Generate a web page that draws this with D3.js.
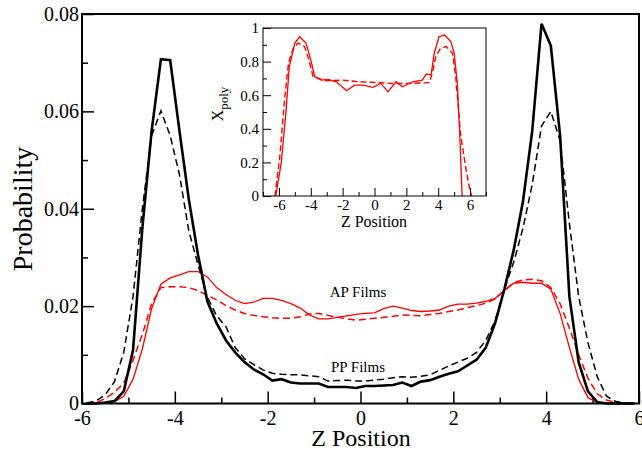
<!DOCTYPE html>
<html>
<head>
<meta charset="utf-8">
<script src="https://cdn.jsdelivr.net/npm/d3@7"></script>
<style>
  body { margin: 0; background: #fff; }
  text { font-family: "Liberation Serif", "Times New Roman", serif; fill: #000; }
</style>
</head>
<body>
<script>
// bin centres along z for the main probability profiles
const zMain = [-5.9,-5.7,-5.5,-5.3,-5.1,-4.9,-4.7,-4.5,-4.3,-4.1,
  -3.9,-3.7,-3.5,-3.3,-3.1,-2.9,-2.7,-2.5,-2.3,-2.1,
  -1.9,-1.7,-1.5,-1.3,-1.1,-0.9,-0.7,-0.5,-0.3,-0.1,
  0.1,0.3,0.5,0.7,0.9,1.1,1.3,1.5,1.7,1.9,
  2.1,2.3,2.5,2.7,2.9,3.1,3.3,3.5,3.7,3.9,
  4.1,4.3,4.5,4.7,4.9,5.1,5.3,5.5,5.7,5.9]

// PP films (black)
const ppSolid = [0,0,0.0002,0.0005,0.0025,0.011,0.036,0.056,0.0707,0.0705,
  0.056,0.042,0.0305,0.021,0.0165,0.013,0.0105,0.0085,0.007,0.006,
  0.0047,0.005,0.0043,0.0041,0.0041,0.0041,0.0034,0.0034,0.0034,0.0032,
  0.0036,0.0036,0.0037,0.0038,0.0043,0.0036,0.0045,0.0048,0.0055,0.0061,
  0.0066,0.0078,0.009,0.0115,0.0165,0.0235,0.0315,0.0415,0.056,0.078,
  0.0735,0.055,0.022,0.0085,0.0025,0.0003,0,0,0,0]
const ppDashed = [0.0001,0.0005,0.0018,0.0045,0.0105,0.022,0.04,0.055,0.0601,0.055,
  0.047,0.0355,0.0285,0.0219,0.018,0.0158,0.0115,0.0092,0.008,0.0069,
  0.0062,0.006,0.0059,0.0059,0.0057,0.0055,0.0046,0.0047,0.0048,0.0046,
  0.0046,0.0048,0.005,0.0053,0.0055,0.0054,0.0056,0.0059,0.0068,0.0077,
  0.0085,0.0093,0.0105,0.013,0.017,0.0235,0.029,0.036,0.045,0.057,
  0.06,0.054,0.037,0.022,0.0125,0.0055,0.0015,0.0004,0.0001,0]

// AP films (red)
const apSolid = [0,0,0.0001,0.0004,0.0015,0.005,0.0112,0.0195,0.0245,0.0258,
  0.0264,0.0271,0.0271,0.026,0.0238,0.0224,0.0212,0.0205,0.0208,0.0216,
  0.0216,0.0212,0.0205,0.0196,0.0182,0.0174,0.0174,0.0177,0.018,0.0183,
  0.0185,0.0186,0.0195,0.02,0.0196,0.0191,0.0189,0.019,0.0192,0.02,
  0.0204,0.0204,0.0206,0.021,0.0216,0.0232,0.0247,0.0249,0.0247,0.0247,
  0.0235,0.0185,0.0115,0.005,0.0012,0.0002,0,0,0,0]
const apDashed = [0,0.0002,0.001,0.0023,0.0042,0.0089,0.0142,0.0205,0.0238,0.024,
  0.024,0.0238,0.0232,0.0222,0.0213,0.0201,0.0192,0.0185,0.0181,0.0178,
  0.0176,0.0175,0.0175,0.0178,0.0184,0.0185,0.0181,0.0177,0.0174,0.0171,
  0.0173,0.0175,0.0177,0.0179,0.0182,0.0181,0.018,0.0183,0.0185,0.0189,
  0.0192,0.0197,0.0201,0.0206,0.0215,0.0232,0.0248,0.0254,0.0255,0.0252,
  0.0238,0.0205,0.0155,0.01,0.0052,0.002,0.0007,0.0002,0,0]

// inset: polymer fraction
const zInsetSolid = [-6.2,-5.85,-5.55,-5.35,-5.0,-4.7,-4.3,-4.0,-3.75,-3.35,-2.9,-2.4,-1.75,-1.25,-0.75,-0.1,
  0.4,0.85,1.35,1.75,2.4,3.0,3.25,3.55,3.75,4.05,4.4,4.8,5.0,5.2,5.35,5.5]
const xPolySolid = [0.0,0.2,0.51,0.77,0.91,0.948,0.91,0.81,0.71,0.69,0.694,0.68,0.627,0.66,0.66,0.647,
  0.67,0.62,0.68,0.65,0.68,0.69,0.726,0.72,0.85,0.948,0.958,0.918,0.85,0.67,0.37,0.0]
const zInsetDash = [-6.25,-5.95,-5.65,-5.4,-5.1,-4.8,-4.4,-4.15,-3.85,-3.0,-2.0,-0.95,0.1,
  1.15,2.2,3.45,3.65,3.85,4.15,4.5,4.9,5.1,5.4,5.75,5.95,6.1]
const xPolyDash = [0.0,0.23,0.57,0.79,0.88,0.91,0.89,0.82,0.71,0.686,0.69,0.68,0.675,
  0.67,0.67,0.675,0.74,0.83,0.88,0.89,0.85,0.71,0.37,0.155,0.055,0.0]

// tick values
const mainXMajor = [-6,-4,-2,0,2,4,6]
const mainXMinor = [-5,-3,-1,1,3,5]
const mainYMajor = [0,0.02,0.04,0.06,0.08]
const mainYMinor = [0.01,0.03,0.05,0.07]
const mainYLabels = ['0','0.02','0.04','0.06','0.08']
const insetXMajor = [-6,-4,-2,0,2,4,6]
const insetXMinor = [-7,-5,-3,-1,1,3,5,7]
const insetYMajor = [0,0.2,0.4,0.6,0.8,1]
const insetYMinor = [0.1,0.3,0.5,0.7,0.9]
const insetYLabels = ['0','0.2','0.4','0.6','0.8','1']

const svg = d3.select('body').append('svg')
  .attr('width', 642)
  .attr('height', 452)

// main plot box
const x = d3.scaleLinear().domain([-6, 6]).range([82, 639])
const y = d3.scaleLinear().domain([0, 0.08]).range([403.5, 14])

function drawAxes(g, xs, ys, opt) {
  // ticks point inward, so labels sit just outside the frame
  const xa = g.append('g').attr('transform', `translate(0,${ys.range()[0]})`)
    .call(d3.axisBottom(xs).tickValues(opt.xMajor).tickSize(-opt.major).tickSizeOuter(0)
      .tickPadding(opt.xPad).tickFormat(d => String(d).replace('\u2212', '-')))
  const xm = g.append('g').attr('transform', `translate(0,${ys.range()[0]})`)
    .call(d3.axisBottom(xs).tickValues(opt.xMinor).tickSize(-opt.minor).tickFormat(''))
  const ya = g.append('g').attr('transform', `translate(${xs.range()[0]},0)`)
    .call(d3.axisLeft(ys).tickValues(opt.yMajor).tickSize(-opt.major).tickSizeOuter(0)
      .tickPadding(opt.yPad).tickFormat((d, i) => opt.yLabels[i]))
  const ym = g.append('g').attr('transform', `translate(${xs.range()[0]},0)`)
    .call(d3.axisLeft(ys).tickValues(opt.yMinor).tickSize(-opt.minor).tickFormat(''))
  for (let a of [xa, xm, ya, ym]) {
    a.select('.domain').remove()
    a.selectAll('line').attr('stroke', '#000').attr('stroke-width', opt.tickWidth)
    a.selectAll('text').attr('font-size', opt.fontSize)
      .attr('font-family', '"Liberation Serif", "Times New Roman", serif')
  }
}

const main = svg.append('g')
drawAxes(main, x, y, {
  xMajor: mainXMajor, xMinor: mainXMinor, yMajor: mainYMajor, yMinor: mainYMinor,
  yLabels: mainYLabels, major: 12, minor: 6, xPad: 7, yPad: 3, tickWidth: 1.5, fontSize: 20
})

const line = d3.line().x(d => x(d[0])).y(d => y(d[1]))
const series = [
  {vals: apSolid, color: '#ff0000', width: 1.3, dash: null},
  {vals: apDashed, color: '#ff0000', width: 1.5, dash: '7,4'},
  {vals: ppDashed, color: '#000', width: 1.5, dash: '7,4'},
  {vals: ppSolid, color: '#000', width: 2.6, dash: null}
]
for (let s of series) {
  main.append('path')
    .datum(zMain.map((z, i) => [z, s.vals[i]]))
    .attr('d', line)
    .attr('fill', 'none')
    .attr('stroke', s.color)
    .attr('stroke-width', s.width)
    .attr('stroke-dasharray', s.dash)
}

main.append('rect')
  .attr('x', 82).attr('y', 14).attr('width', 639 - 82).attr('height', 403.5 - 14)
  .attr('fill', 'none').attr('stroke', '#000').attr('stroke-width', 2)

main.append('text').attr('x', 358).attr('y', 297).attr('font-size', 15)
  .attr('text-anchor', 'middle').text('AP Films')
main.append('text').attr('x', 358).attr('y', 372).attr('font-size', 15)
  .attr('text-anchor', 'middle').text('PP Films')

main.append('text').attr('x', 361).attr('y', 446).attr('font-size', 24)
  .attr('text-anchor', 'middle').text('Z Position')
main.append('text').attr('transform', 'translate(32,209) rotate(-90)').attr('font-size', 28)
  .attr('text-anchor', 'middle').text('Probability')

// inset
const ix = d3.scaleLinear().domain([-7, 7]).range([263, 486])
const iy = d3.scaleLinear().domain([0, 1]).range([196, 28])
const inset = svg.append('g')
inset.append('rect')
  .attr('x', 263).attr('y', 28).attr('width', 486 - 263).attr('height', 196 - 28)
  .attr('fill', '#fff')

drawAxes(inset, ix, iy, {
  xMajor: insetXMajor, xMinor: insetXMinor, yMajor: insetYMajor, yMinor: insetYMinor,
  yLabels: insetYLabels, major: 8, minor: 4, xPad: 3, yPad: 4, tickWidth: 1, fontSize: 15
})

const iline = d3.line().x(d => ix(d[0])).y(d => iy(d[1]))
inset.append('path')
  .datum(zInsetSolid.map((z, i) => [z, xPolySolid[i]]))
  .attr('d', iline).attr('fill', 'none').attr('stroke', '#ff0000').attr('stroke-width', 1.3)
inset.append('path')
  .datum(zInsetDash.map((z, i) => [z, xPolyDash[i]]))
  .attr('d', iline).attr('fill', 'none').attr('stroke', '#ff0000').attr('stroke-width', 1.4)
  .attr('stroke-dasharray', '6,3')

inset.append('rect')
  .attr('x', 263).attr('y', 28).attr('width', 486 - 263).attr('height', 196 - 28)
  .attr('fill', 'none').attr('stroke', '#000').attr('stroke-width', 1)

inset.append('text').attr('x', 374).attr('y', 227).attr('font-size', 16)
  .attr('text-anchor', 'middle').text('Z Position')
const yl = inset.append('text').attr('transform', 'translate(223,104) rotate(-90)')
  .attr('font-size', 16).attr('text-anchor', 'middle')
yl.append('tspan').text('X')
yl.append('tspan').attr('font-size', 13).attr('dy', 5).text('poly')
</script>
</body>
</html>
